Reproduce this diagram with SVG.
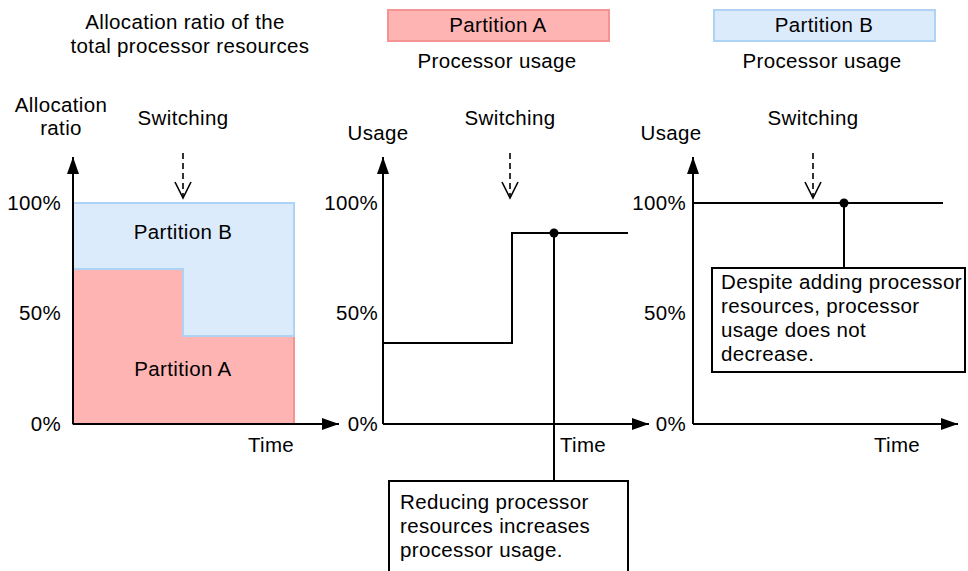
<svg xmlns="http://www.w3.org/2000/svg" width="968" height="571" viewBox="0 0 968 571">
<defs>
<style>
text{font-family:"Liberation Sans",Arial,sans-serif;font-size:20.5px;letter-spacing:0.35px;fill:#000}
.c{text-anchor:middle}
.r{text-anchor:end}
.ax{stroke:#000;stroke-width:2;fill:none}
.ln{stroke:#000;stroke-width:2;fill:none}
.dash{stroke:#000;stroke-width:1.6;fill:none;stroke-dasharray:6 4}
.vh{stroke:#000;stroke-width:1.6;fill:none}
.box{fill:#fff;stroke:#000;stroke-width:2}
.pa{fill:#FFB4B4;stroke:#F39393;stroke-width:2}
.pb{fill:#DCEBFC;stroke:#AED3F5;stroke-width:2}
</style>
<marker id="ah" viewBox="0 0 17 12" refX="17" refY="6" markerWidth="17" markerHeight="12" markerUnits="userSpaceOnUse" orient="auto">
<path d="M0,0 L17,6 L0,12 Z" fill="#000"/>
</marker>
</defs>
<rect width="968" height="571" fill="#fff"/>

<g id="header">
<text class="c" x="185" y="29">Allocation ratio of the</text>
<text class="c" x="190" y="53">total processor resources</text>
</g>
<g id="legendA">
<rect class="pa" x="388" y="10" width="221" height="31"/>
<text class="c" x="498" y="32">Partition A</text>
<text class="c" x="497" y="68">Processor usage</text>
</g>
<g id="legendB">
<rect class="pb" x="714" y="10" width="221" height="31"/>
<text class="c" x="824" y="32">Partition B</text>
<text class="c" x="822" y="68">Processor usage</text>
</g>

<g id="panel1">
<text class="c" x="61" y="112">Allocation</text>
<text class="c" x="61" y="135">ratio</text>
<text class="c" x="183" y="125">Switching</text>
<polygon class="pa" points="73,269 183,269 183,336 294,336 294,424 73,424"/>
<polygon class="pb" points="73,203 294,203 294,336 183,336 183,269 73,269"/>
<text class="c" x="183" y="239">Partition B</text>
<text class="c" x="183" y="376">Partition A</text>
<text class="r" x="61" y="210">100%</text>
<text class="r" x="61" y="320">50%</text>
<text class="r" x="61" y="431">0%</text>
<text class="c" x="271" y="452">Time</text>
</g>

<g id="panel2">
<text class="c" x="378" y="140">Usage</text>
<text class="c" x="510" y="125">Switching</text>
<text class="r" x="378" y="210">100%</text>
<text class="r" x="378" y="320">50%</text>
<text class="r" x="378" y="431">0%</text>
<text class="c" x="583" y="452">Time</text>
</g>

<g id="panel3">
<text class="c" x="671" y="140">Usage</text>
<text class="c" x="813" y="125">Switching</text>
<text class="r" x="686" y="210">100%</text>
<text class="r" x="686" y="320">50%</text>
<text class="r" x="686" y="431">0%</text>
<text class="c" x="897" y="452">Time</text>
</g>

<g id="connectors">
<line class="ax" x1="73" y1="424" x2="73" y2="157" marker-end="url(#ah)"/>
<line class="ax" x1="73" y1="424" x2="339" y2="424" marker-end="url(#ah)"/>
<line class="ax" x1="383" y1="424" x2="383" y2="157" marker-end="url(#ah)"/>
<line class="ax" x1="383" y1="424" x2="649" y2="424" marker-end="url(#ah)"/>
<line class="ax" x1="693" y1="424" x2="693" y2="157" marker-end="url(#ah)"/>
<line class="ax" x1="693" y1="424" x2="958" y2="424" marker-end="url(#ah)"/>

<line class="dash" x1="183" y1="153" x2="183" y2="196"/>
<polyline class="vh" points="175,182 183,198 191,182"/>
<line class="dash" x1="510" y1="153" x2="510" y2="196"/>
<polyline class="vh" points="502,182 510,198 518,182"/>
<line class="dash" x1="813" y1="153" x2="813" y2="196"/>
<polyline class="vh" points="805,182 813,198 821,182"/>

<polyline class="ln" points="383,343 512,343 512,233 628,233"/>
<line class="ln" x1="554" y1="233" x2="554" y2="481"/>
<circle cx="554" cy="233" r="4.5" fill="#000"/>

<line class="ln" x1="693" y1="203" x2="943" y2="203"/>
<line class="ln" x1="844" y1="203" x2="844" y2="268"/>
<circle cx="844" cy="203" r="4.5" fill="#000"/>
</g>

<g id="callout2">
<rect class="box" x="389" y="481" width="239" height="100"/>
<text x="400" y="509">Reducing processor</text>
<text x="400" y="533">resources increases</text>
<text x="400" y="557">processor usage.</text>
</g>

<g id="callout3">
<rect class="box" x="712" y="268" width="253" height="104"/>
<text x="721" y="289">Despite adding processor</text>
<text x="721" y="313">resources, processor</text>
<text x="721" y="337">usage does not</text>
<text x="721" y="361">decrease.</text>
</g>
</svg>
